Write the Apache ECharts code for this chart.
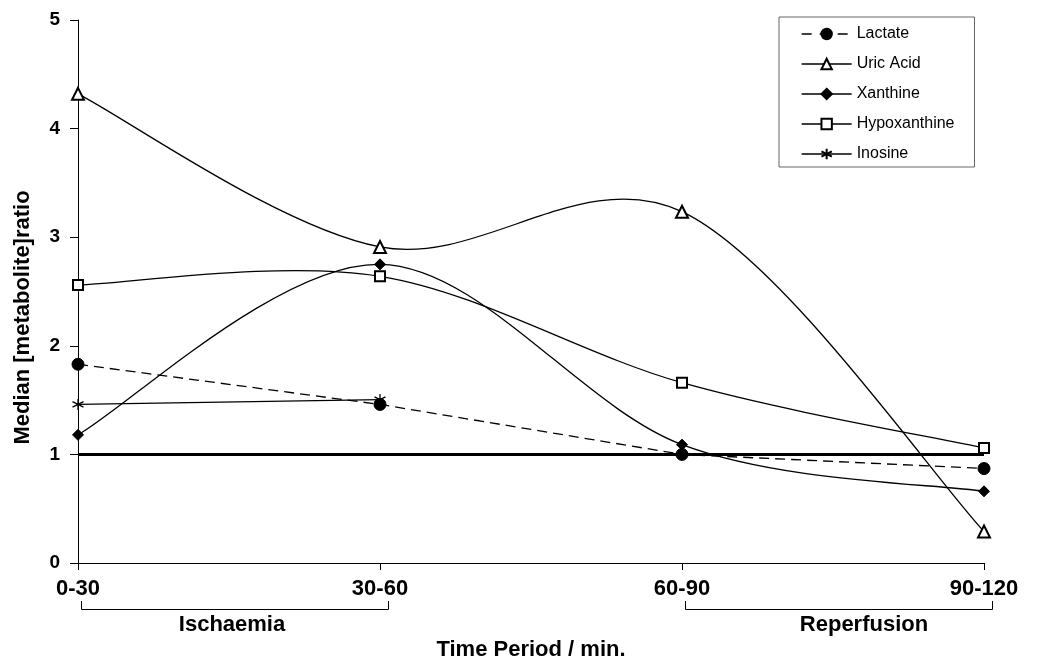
<!DOCTYPE html>
<html>
<head>
<meta charset="utf-8">
<script src="https://cdn.jsdelivr.net/npm/echarts@6/dist/echarts.min.js"></script>
<style>
html,body{margin:0;padding:0;background:#fff;}
#chart{width:1038px;height:668px;}
</style>
</head>
<body>
<div id="chart"></div>
<script>
// ---- data ----
const categories = ['0-30', '30-60', '60-90', '90-120'];
const lactate = [1.83, 1.46, 1.00, 0.87];
const uricAcid = [4.32, 2.91, 3.235, 0.29];
const xanthine = [1.18, 2.75, 1.09, 0.66];
const hypoxanthine = [2.56, 2.64, 1.66, 1.06];
const inosine = [1.46, 1.505, null, null];
const referenceLevel = 1;
const yTicks = [0, 1, 2, 3, 4, 5];
const phases = [
  { label: 'Ischaemia', from: '0-30', to: '30-60' },
  { label: 'Reperfusion', from: '60-90', to: '90-120' }
];

const FONT = '"Liberation Sans", Arial, sans-serif';
const chart = echarts.init(document.getElementById('chart'));

// Excel-like Catmull-Rom smoothing drawn through the axis scales
function splineSeries(name, values) {
  const n = values.length;
  return {
    type: 'custom',
    name: name + ' (curve)',
    coordinateSystem: 'cartesian2d',
    z: 1,
    silent: true,
    data: values.map((v, i) => [i, v]),
    renderItem(params, api) {
      const i = params.dataIndex;
      if (i >= n - 1) return null;
      const P = k => {
        const j = Math.max(0, Math.min(n - 1, k));
        return api.coord([j, values[j]]);
      };
      const p0 = P(i - 1), p1 = P(i), p2 = P(i + 1), p3 = P(i + 2);
      const t = 1 / 6;
      return {
        type: 'bezierCurve',
        shape: {
          x1: p1[0], y1: p1[1], x2: p2[0], y2: p2[1],
          cpx1: p1[0] + (p2[0] - p0[0]) * t, cpy1: p1[1] + (p2[1] - p0[1]) * t,
          cpx2: p2[0] - (p3[0] - p1[0]) * t, cpy2: p2[1] - (p3[1] - p1[1]) * t
        },
        style: { stroke: '#000', lineWidth: 1.3, fill: null }
      };
    }
  };
}

function markerSeries(name, values, symbol, size, filled, hideLine, dashed) {
  return {
    type: 'line',
    name: name,
    data: values,
    symbol: symbol,
    symbolSize: size,
    showAllSymbol: true,
    connectNulls: false,
    z: 3,
    itemStyle: filled
      ? { color: '#000', borderColor: '#000', borderWidth: 1 }
      : { color: '#000', borderColor: '#000', borderWidth: 1.3 },
    lineStyle: {
      color: '#000',
      width: 1.3,
      type: dashed ? [10, 6] : 'solid',
      opacity: hideLine ? 0 : 1
    }
  };
}

const asterisk = 'path://M5,0 L5,10 M0.7,2.5 L9.3,7.5 M0.7,7.5 L9.3,2.5';

const series = [
  Object.assign(markerSeries('Lactate', lactate, 'circle', 12, true, false, true), {
    markLine: {
      silent: true,
      symbol: 'none',
      label: { show: false },
      lineStyle: { color: '#000', width: 3, type: 'solid' },
      data: [{ yAxis: referenceLevel }]
    }
  }),
  markerSeries('Uric Acid', uricAcid, 'emptyTriangle', 12, false, true, false),
  markerSeries('Xanthine', xanthine, 'diamond', 11, true, true, false),
  markerSeries('Hypoxanthine', hypoxanthine, 'emptyRect', 10, false, true, false),
  Object.assign(markerSeries('Inosine', inosine, asterisk, 11, false, false, false), {
    itemStyle: { color: '#000', borderColor: '#000', borderWidth: 1.3 }
  }),
  splineSeries('Uric Acid', uricAcid),
  splineSeries('Xanthine', xanthine),
  splineSeries('Hypoxanthine', hypoxanthine)
];

const solidLegendLine = { color: '#000', width: 1.3, type: 'solid', opacity: 1 };

chart.setOption({
  animation: false,
  backgroundColor: '#fff',
  textStyle: { fontFamily: FONT, color: '#000' },
  grid: { left: 78, right: 54, top: 20, bottom: 105, containLabel: false },
  legend: {
    orient: 'vertical',
    left: 779,
    top: 17,
    padding: [9, 20, 5, 22],
    itemWidth: 50,
    itemHeight: 13,
    itemGap: 14,
    borderColor: '#666',
    borderWidth: 1,
    backgroundColor: '#fff',
    textStyle: { fontFamily: FONT, fontSize: 16, color: '#000', lineHeight: 16 },
    data: [
      { name: 'Lactate', lineStyle: { color: '#000', width: 1.3, type: [10, 8], opacity: 1 } },
      { name: 'Uric Acid', lineStyle: solidLegendLine },
      { name: 'Xanthine', lineStyle: solidLegendLine },
      { name: 'Hypoxanthine', lineStyle: solidLegendLine },
      { name: 'Inosine', lineStyle: solidLegendLine }
    ]
  },
  xAxis: {
    type: 'category',
    data: categories,
    boundaryGap: false,
    name: 'Time Period / min.',
    nameLocation: 'middle',
    nameGap: 76,
    nameTextStyle: { fontFamily: FONT, fontSize: 22, fontWeight: 'bold', color: '#000' },
    axisLine: { lineStyle: { color: '#000', width: 1 } },
    axisTick: { alignWithLabel: true, length: 7, lineStyle: { color: '#000' } },
    axisLabel: { fontFamily: FONT, fontSize: 22, fontWeight: 'bold', color: '#000', margin: 15, interval: 0 },
    splitLine: { show: false }
  },
  yAxis: {
    type: 'value',
    min: yTicks[0],
    max: yTicks[yTicks.length - 1],
    interval: 1,
    name: 'Median [metabolite]ratio',
    nameLocation: 'middle',
    nameGap: 44,
    nameRotate: 90,
    nameTextStyle: { fontFamily: FONT, fontSize: 22, fontWeight: 'bold', color: '#000', padding: [0, 52, 0, 0] },
    axisLine: { show: true, lineStyle: { color: '#000', width: 1 } },
    axisTick: { show: true, length: 8, lineStyle: { color: '#000' } },
    axisLabel: { fontFamily: FONT, fontSize: 19, fontWeight: 'bold', color: '#000', margin: 18 },
    splitLine: { show: false }
  },
  series: series
});

// Phase brackets under the category axis, positioned through the axis scale
const bracketY = 609.5, bracketTop = 601;
const phaseTextX = { 'Ischaemia': 232, 'Reperfusion': 864 };
const graphics = [];
phases.forEach(p => {
  const x0 = Math.round(chart.convertToPixel({ xAxisIndex: 0 }, p.from) + 3) + 0.5;
  const x1 = Math.round(chart.convertToPixel({ xAxisIndex: 0 }, p.to) + 8) + 0.5;
  graphics.push({
    type: 'polyline',
    shape: { points: [[x0, bracketTop], [x0, bracketY], [x1, bracketY], [x1, bracketTop]] },
    style: { stroke: '#000', lineWidth: 1, fill: null },
    silent: true
  });
  graphics.push({
    type: 'text',
    x: phaseTextX[p.label],
    y: 625,
    style: {
      text: p.label, fontFamily: FONT, fontSize: 22, fontWeight: 'bold', fill: '#000',
      textAlign: 'center', textVerticalAlign: 'middle'
    },
    silent: true
  });
});
chart.setOption({ graphic: graphics });
</script>
</body>
</html>
